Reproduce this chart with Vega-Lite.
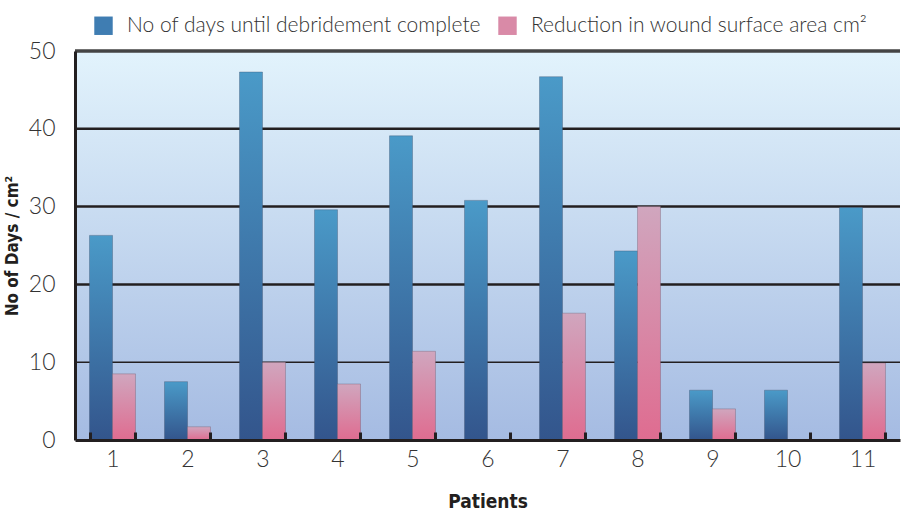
{
  "$schema": "https://vega.github.io/schema/vega-lite/v6.json",
  "width": 825,
  "height": 389,
  "autosize": "none",
  "padding": {"left": 75, "top": 51, "right": 5, "bottom": 77},
  "background": "white",
  "config": {"view": {"stroke": null}, "font": "Lato"},
  "data": {
    "values": [
      {"patient": "1", "series": "No of days until debridement complete", "value": 26.3},
      {"patient": "1", "series": "Reduction in wound surface area cm²", "value": 8.5},
      {"patient": "2", "series": "No of days until debridement complete", "value": 7.5},
      {"patient": "2", "series": "Reduction in wound surface area cm²", "value": 1.7},
      {"patient": "3", "series": "No of days until debridement complete", "value": 47.3},
      {"patient": "3", "series": "Reduction in wound surface area cm²", "value": 10.0},
      {"patient": "4", "series": "No of days until debridement complete", "value": 29.6},
      {"patient": "4", "series": "Reduction in wound surface area cm²", "value": 7.2},
      {"patient": "5", "series": "No of days until debridement complete", "value": 39.1},
      {"patient": "5", "series": "Reduction in wound surface area cm²", "value": 11.4},
      {"patient": "6", "series": "No of days until debridement complete", "value": 30.8},
      {"patient": "6", "series": "Reduction in wound surface area cm²", "value": 0},
      {"patient": "7", "series": "No of days until debridement complete", "value": 46.7},
      {"patient": "7", "series": "Reduction in wound surface area cm²", "value": 16.3},
      {"patient": "8", "series": "No of days until debridement complete", "value": 24.3},
      {"patient": "8", "series": "Reduction in wound surface area cm²", "value": 30.0},
      {"patient": "9", "series": "No of days until debridement complete", "value": 6.4},
      {"patient": "9", "series": "Reduction in wound surface area cm²", "value": 4.0},
      {"patient": "10", "series": "No of days until debridement complete", "value": 6.4},
      {"patient": "10", "series": "Reduction in wound surface area cm²", "value": 0},
      {"patient": "11", "series": "No of days until debridement complete", "value": 29.9},
      {"patient": "11", "series": "Reduction in wound surface area cm²", "value": 9.9}
    ]
  },
  "encoding": {
    "x": {
      "field": "patient", "type": "ordinal", "sort": null,
      "scale": {"paddingInner": 0.387, "paddingOuter": 0.1935},
      "axis": {
        "title": "Patients", "labelAngle": 0, "labelFontSize": 23, "labelFont": "Lato", "labelFontWeight": 300,
        "labelColor": "#333333", "labelPadding": 16, "tickBand": "extent", "tickSize": -8, "tickWidth": 3,
        "tickColor": "#231f20", "domainColor": "#231f20", "domainWidth": 3, "zindex": 1,
        "titleFont": "Liberation Sans Narrow, DejaVu Sans Condensed, sans-serif", "titleFontSize": 19, "titleFontWeight": "bold", "titleColor": "#231f20",
        "titlePadding": 21
      }
    },
    "y": {
      "field": "value", "type": "quantitative",
      "scale": {"domain": [0, 50], "nice": false},
      "axis": {
        "title": "No of Days / cm²", "values": [0, 10, 20, 30, 40, 50], "labelFontSize": 23, "labelFont": "Lato",
        "labelFontWeight": 300, "labelColor": "#333333", "labelPadding": 20, "ticks": false,
        "domainColor": "#231f20", "domainWidth": 3, "grid": false, "zindex": 1,
        "titleFont": "Liberation Sans Narrow, DejaVu Sans Condensed, sans-serif", "titleFontSize": 17, "titleFontWeight": "bold", "titleColor": "#231f20",
        "titlePadding": 7
      }
    }
  },
  "layer": [
    {
      "data": {"values": [{"hi": 50, "lo": 0}]},
      "mark": {"type": "rect", "color": {"gradient": "linear", "x1": 0, "y1": 0, "x2": 0, "y2": 1,
        "stops": [{"offset": 0, "color": "#e2f3fc"}, {"offset": 1, "color": "#a5bbe2"}]}},
      "encoding": {"x": null, "y": {"field": "hi", "type": "quantitative"}, "y2": {"field": "lo"}}
    },
    {
      "data": {"values": [{"g": 10, "w": "thin"}, {"g": 20, "w": "thick"}, {"g": 30, "w": "thick"}, {"g": 40, "w": "thick"}, {"g": 50, "w": "top"}]},
      "mark": {"type": "rule"},
      "encoding": {
        "x": null,
        "y": {"field": "g", "type": "quantitative"},
        "strokeWidth": {"field": "w", "type": "nominal", "scale": {"domain": ["thin", "thick", "top"], "range": [1.5, 3.5, 2.5]}, "legend": null},
        "color": {"condition": {"test": "datum.g == 50", "value": "#444444"}, "value": "#231f20"}
      }
    },
    {
      "transform": [{"filter": "datum.series == 'No of days until debridement complete'"}],
      "mark": {"type": "bar", "stroke": "#3a4a66", "strokeOpacity": 0.35, "strokeWidth": 1,
        "color": {"gradient": "linear", "x1": 0, "y1": 0, "x2": 0, "y2": 1,
        "stops": [{"offset": 0, "color": "#4a9ac8"}, {"offset": 1, "color": "#33558c"}]}},
      "encoding": {
        "xOffset": {"field": "series", "type": "nominal", "scale": {"domain": ["No of days until debridement complete", "Reduction in wound surface area cm²"], "paddingInner": 0, "paddingOuter": 0}}
      }
    },
    {
      "transform": [{"filter": "datum.series != 'No of days until debridement complete'"}],
      "mark": {"type": "bar", "stroke": "#5a4a5a", "strokeOpacity": 0.3, "strokeWidth": 1,
        "color": {"gradient": "linear", "x1": 0, "y1": 0, "x2": 0, "y2": 1,
        "stops": [{"offset": 0, "color": "#d0a6be"}, {"offset": 1, "color": "#df6c90"}]}},
      "encoding": {
        "xOffset": {"field": "series", "type": "nominal", "scale": {"domain": ["No of days until debridement complete", "Reduction in wound surface area cm²"], "paddingInner": 0, "paddingOuter": 0}}
      }
    },
    {
      "mark": {"type": "square", "opacity": 0, "size": 1},
      "encoding": {
        "xOffset": {"field": "series", "type": "nominal"},
        "color": {
          "field": "series", "type": "nominal",
          "scale": {"domain": ["No of days until debridement complete", "Reduction in wound surface area cm²"], "range": ["#3f7db2", "#d98aa7"]},
          "legend": {
            "title": null, "orient": "none", "direction": "horizontal", "legendX": 18, "legendY": -36,
            "symbolType": "square", "symbolSize": 340, "symbolOpacity": 1, "symbolStrokeWidth": 0,
            "labelFontSize": 21, "labelFont": "Lato", "labelFontWeight": 300, "labelColor": "#333333",
            "labelLimit": 500, "columnPadding": 16, "labelOffset": 13
          }
        }
      }
    }
  ]
}
